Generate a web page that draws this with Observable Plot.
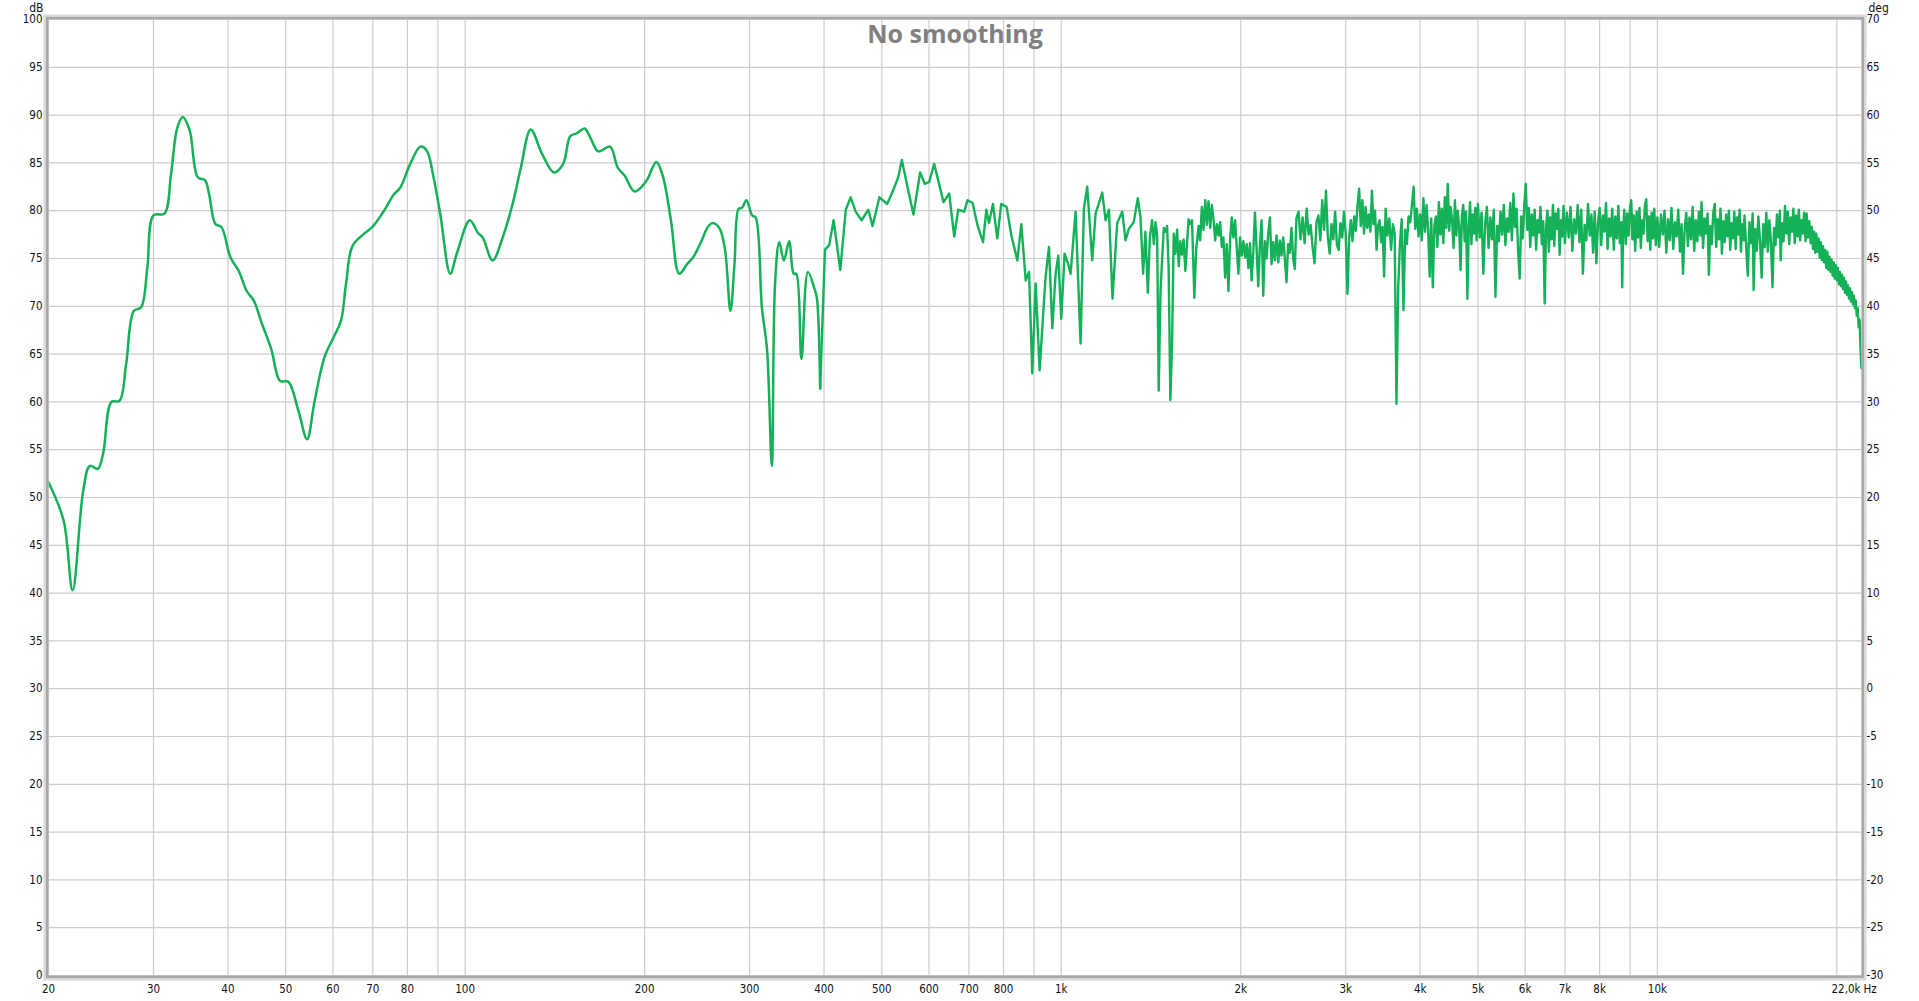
<!DOCTYPE html>
<html><head><meta charset="utf-8">
<script src="https://cdn.jsdelivr.net/npm/d3@7"></script>
<script src="https://cdn.jsdelivr.net/npm/@observablehq/plot@0.6"></script>
<style>html,body{margin:0;padding:0;background:#fff;overflow:hidden}</style>
</head><body><div id="chart"></div>
<script>
// ---- data: [frequency Hz, level dB] ----
const bassBand = [[20,51.6],[21.2,47.6],[21.95,40.3],[22.87,50.7],[23.46,53.3],[24.2,53.0],[24.7,54.6],[25.5,60.0],[26.3,60.1],[27.0,64.0],[27.8,69.5],[28.6,69.9],[29.3,74.1],[30,79.5],[31.3,79.7],[32.1,83.8],[32.9,88.7],[33.6,89.8],[34.5,88.4],[35.6,83.5],[36.6,83.2],[37.2,81.7],[38.1,78.6],[39.0,78.3],[40.4,75.1],[41.7,73.7],[43.0,71.6],[44.2,70.6],[45.6,68.2],[47.3,65.5],[48.9,62.2],[50.5,62.1],[52.5,59.1],[54.3,56.1],[55.9,60.1],[58.1,64.7],[60.2,66.8],[61.9,68.5],[63.1,72.3],[64.7,76.3],[67.7,77.6],[69.9,78.3],[73.1,80.0],[75.9,81.7],[77.8,82.4],[80.9,84.9],[84.1,86.7],[86.2,86.3],[88.5,83.5],[90.8,79.7],[94.4,73.4],[96.8,75.5],[101.8,79.0]];
const lowMidBand = [[105,77.7],[107,77.2],[111.2,74.8],[115.6,77.2],[120.1,80.7],[124,84.5],[128.8,88.5],[134.7,85.9],[140.9,84.0],[146,84.9],[150.1,87.8],[154,88.1],[158.6,88.6],[162,87.7],[167.3,86.2],[175,86.7],[180.3,84.5],[185,83.7],[192.5,82.0],[201.3,83.1],[209.2,85.1],[214.4,83.7],[221.4,79.0],[228.6,73.4],[235.6,74.4],[241.1,75.1],[248.6,76.7],[256,78.4],[261,78.7],[267.4,78.1],[273,75.8],[278.6,69.5],[283,74.4],[287.6,80.2],[291.4,80.3],[296.4,81.1],[303,79.5],[307,79.3],[314.6,69.9],[321,65.4],[326.9,53.3],[331,72.3],[336.5,76.7],[342.5,74.8],[349.5,76.8],[355.8,73.4],[359.3,73.4],[366.5,64.5],[375.9,73.6],[385.6,71.8],[389,70.9],[394,61.4]];
const midBand = [[401.4,75.9],[408,76.4],[415,79.0],[425.9,73.8],[435,80.1],[443.4,81.4],[452,79.9],[462.5,79.0],[474.6,80.1],[482.4,78.4],[495.3,81.4],[510.4,80.7],[521.3,82.0],[532.7,83.5],[540.3,85.3],[552,82.5],[565,79.6],[579.8,84.0],[590.3,82.8],[600.3,83.0],[612,84.9],[634.6,80.9],[648.6,81.8],[661.3,77.3],[671.6,80.1],[687.3,79.9],[696.3,81.1],[710,80.8],[723.4,78.5],[739.2,76.7],[748.7,80.1],[756.3,78.7],[768,80.7],[781,77.1],[793,80.7],[809.6,80.4],[824.6,77.4],[844,74.8],[857,78.6],[871.6,72.7],[883,73.6],[894,63.0],[905.7,72.4],[919.8,63.3],[931.8,68.9],[941.3,73.1],[953.5,76.2],[966,67.7],[978.4,73.4],[988.5,75.3],[1000,68.7],[1012.9,75.5],[1026,74.5],[1036.6,73.4],[1056.8,79.9],[1077.4,66.1],[1091.3,80.2],[1105.5,82.5],[1127,74.8],[1141.8,79.7],[1171.5,81.9],[1186.7,79.0],[1202,80.1],[1219,70.8],[1241,78.7],[1265.5,79.9],[1281.8,76.9],[1298,78.1],[1323,78.8],[1344,81.3],[1358,79.3],[1372,73.4],[1384,77.8],[1397,71.4],[1408,77.2],[1420,79.0],[1430,76.5]];
const upperMidBand = [[1439,78.8],[1448,77.5],[1457,61.2],[1467,71.5],[1476,74.8],[1486,78.2],[1495,77.8],[1505,78.4],[1514,74.0],[1524,60.2],[1534,66.0],[1544,77.6],[1554,75.5],[1564,78.0],[1574,74.2],[1584,76.8],[1594,75.4],[1604,77.0],[1615,73.7],[1625,76.4],[1635,79.1],[1646,78.6],[1657,79.0],[1672,70.9],[1684,76.0],[1700,78.4],[1710,76.9],[1721,80.4],[1732,78.0],[1744,81.1],[1755,78.5],[1766,81.0],[1778,78.2],[1789,80.6],[1801,79.0],[1812,76.9],[1824,78.6],[1836,77.4],[1847,78.8],[1859,76.2],[1871,77.2],[1883,73.0],[1895,76.5],[1907,71.6],[1920,77.0],[1932,79.3],[1944,77.2],[1957,79.0],[1969,76.3],[1982,73.4],[1995,77.2],[2008,75.3],[2021,76.8],[2034,75.1],[2047,76.5],[2060,74.0],[2073,76.6],[2086,72.7],[2100,75.8],[2113,79.8],[2127,75.9],[2140,72.1],[2154,76.4],[2168,79.0],[2182,71.1],[2196,76.8],[2210,75.0],[2224,77.6],[2239,79.3],[2253,74.4],[2267,76.7],[2282,74.8],[2297,77.4],[2312,74.6],[2327,76.9],[2341,75.3],[2357,77.2],[2372,74.9],[2387,72.5],[2402,76.5],[2418,75.6],[2433,78.2],[2449,75.0],[2465,73.9],[2480,79.2]];
const presenceBand = [[2500,79.9],[2520,77.0],[2540,79.3],[2560,76.6],[2580,80.2],[2600,77.5],[2620,78.5],[2640,76.2],[2660,74.5],[2680,78.8],[2700,79.5],[2720,76.9],[2740,81.1],[2760,78.0],[2780,82.1],[2800,77.3],[2820,75.5],[2840,78.6],[2860,77.0],[2880,79.9],[2900,76.4],[2920,75.9],[2940,78.7],[2960,77.2],[2980,79.9],[3000,77.6],[3020,71.3],[3040,77.1],[3060,79.0],[3080,76.8],[3100,79.4],[3120,77.9],[3140,80.5],[3160,82.3],[3180,78.4],[3200,81.1],[3220,77.6],[3240,80.4],[3260,78.2],[3280,79.6],[3300,77.8],[3320,82.1],[3340,78.6],[3360,80.0],[3380,75.9],[3400,78.5],[3420,79.0],[3440,76.7],[3460,78.3],[3480,73.1],[3500,80.2],
 [3525,77.4],[3550,79.2],[3575,75.9],[3600,78.6],[3625,77.6],[3650,59.8],[3675,72.0],[3700,76.6],[3725,79.1],[3750,69.6],[3775,78.0],[3800,76.5],[3825,79.4],[3850,78.8],[3875,80.6],[3900,82.5],[3925,78.1],[3950,80.2],[3975,77.3],[4000,79.6],[4025,76.9],[4050,81.3],[4075,77.8],[4100,80.6],[4125,78.0],[4150,73.1],[4175,79.2],[4200,72.0],[4225,78.4],[4250,79.4],[4275,76.2],[4300,80.9],[4325,77.5],[4350,80.2],[4375,76.6],[4400,81.4],[4425,78.2],[4450,82.8],[4475,77.9],[4500,80.4],[4525,79.0],[4550,76.1],[4575,81.1],[4600,77.4],[4625,80.0],[4650,78.3],[4675,73.8],[4700,79.5],[4725,80.6],[4750,76.8],[4775,79.9],[4800,70.8],[4825,78.2],[4850,80.9],[4875,76.5],[4900,79.6],[4925,77.6],[4950,80.3],[4975,76.9],[5000,80.7]];
const brillianceBand = [[5035,77.2],[5070,79.8],[5105,73.4],[5140,78.6],[5175,80.4],[5210,76.1],[5245,79.3],[5280,77.0],[5315,80.1],[5350,71.0],[5385,78.4],[5420,76.8],[5455,79.9],[5490,77.5],[5525,80.6],[5560,76.4],[5595,79.2],[5630,77.8],[5665,80.8],[5700,76.9],[5735,81.8],[5770,78.3],[5805,80.2],[5840,75.8],[5875,72.9],[5910,79.4],[5945,77.1],[5980,80.5],[6015,82.8],[6050,78.0],[6085,80.3],[6120,76.2],[6155,79.6],[6190,77.4],[6225,80.1],[6260,75.9],[6295,79.0],[6330,77.7],[6365,80.4],[6400,76.5],[6435,78.9],[6470,70.3],[6505,78.2],[6540,80.0],[6575,75.7],[6610,79.3],[6645,77.0],[6680,80.6],[6715,76.3],[6750,79.7],[6785,78.1],[6820,80.2],[6855,75.4],[6890,79.0],[6925,77.3],[6960,80.5],[6995,76.6],
 [7050,79.8],[7100,77.2],[7150,80.4],[7200,75.8],[7250,79.1],[7300,77.6],[7350,80.6],[7400,76.7],[7450,80.1],[7500,73.4],[7550,78.5],[7600,76.9],[7650,80.7],[7700,77.4],[7750,79.6],[7800,75.6],[7850,79.9],[7900,74.5],[7950,78.7],[8000,80.3],[8050,76.4],[8100,79.5],[8150,77.8],[8200,80.8],[8250,76.0],[8300,79.2],[8350,77.3],[8400,80.2],[8450,75.9],[8500,79.4],[8550,77.1],[8600,80.5],[8650,76.6],[8700,78.8],[8730,72.0],[8760,77.9],[8800,80.1],[8850,76.5],[8900,79.7],[8950,77.4],[9000,80.4],[9040,81.1],[9080,77.0],[9130,79.5],[9180,75.8],[9230,79.9],[9280,77.2],[9330,80.3],[9380,76.1],[9430,79.0],[9480,77.6],[9530,80.6],[9580,81.2],[9630,76.8],[9680,79.4],[9730,75.9],[9780,79.8],[9830,77.1],[9880,80.2],[9940,76.4],[10000,79.3]];
const airBand = [[10070,76.2],[10140,79.6],[10210,77.5],[10280,80.0],[10350,75.6],[10420,79.1],[10490,76.9],[10560,80.3],[10630,76.0],[10700,78.8],[10770,77.3],[10840,80.1],[10910,75.7],[10980,78.6],[11040,73.4],[11110,78.0],[11180,79.8],[11250,76.3],[11320,79.3],[11390,77.0],[11460,80.4],[11530,75.8],[11600,79.0],[11670,76.8],[11740,79.9],[11810,77.4],[11860,80.9],[11930,76.1],[12000,79.2],[12070,77.6],[12140,79.7],[12200,73.3],[12270,78.4],[12340,76.5],[12410,79.8],[12480,80.7],[12550,76.2],[12620,79.1],[12690,77.0],[12760,80.2],[12830,75.5],[12900,78.9],[12970,76.7],[13040,79.6],[13110,77.3],[13180,80.0],[13250,75.9],[13320,78.7],[13390,77.1],[13460,79.9],[13530,76.0],[13600,79.3],[13670,77.5],[13740,80.1],[13810,75.7],[13880,78.6],[13950,76.9],[14000,79.5],
 [14090,76.3],[14180,73.2],[14270,78.8],[14360,76.6],[14450,79.7],[14500,71.7],[14590,78.1],[14680,75.8],[14770,79.4],[14860,77.0],[14960,73.0],[15050,78.6],[15140,76.2],[15230,79.8],[15320,75.7],[15410,79.0],[15500,76.9],[15600,72.0],[15690,78.2],[15780,76.4],[15870,79.6],[15960,77.2],[16050,80.0],[16100,74.8],[16190,78.7],[16280,76.8],[16370,80.5],[16460,77.6],[16550,79.9],[16640,76.5],[16730,79.3],[16820,77.8],[16910,80.2],[17000,76.6],[17090,79.5],[17180,77.3],[17270,80.1],[17360,76.9],[17450,79.0],[17540,77.6],[17630,79.8],[17720,76.8],[17800,79.7],[17890,77.2],[17980,78.9]];
const rolloffBand = [[18080,76.6],[18160,78.3],[18240,76.0],[18320,77.8],[18400,75.6],[18480,77.6],[18560,75.7],[18640,77.1],[18720,75.1],[18800,76.7],[18880,74.8],[18960,76.3],[19040,74.6],[19120,75.9],[19200,74.0],[19280,75.7],[19360,73.8],[19440,75.2],[19520,73.6],[19600,74.9],[19680,73.2],[19760,74.6],[19840,72.9],[19920,74.3],[20000,72.7],[20080,74.0],[20160,72.3],[20240,73.6],[20320,72.1],[20400,73.3],[20480,71.8],[20560,73.0],[20640,71.4],[20720,72.6],[20800,71.2],[20880,72.2],[20960,70.8],[21040,71.9],[21120,70.5],[21200,71.5],[21280,70.2],[21360,71.1],[21440,69.8],[21520,70.6],[21600,69.0],[21680,69.8],[21760,67.8],[21840,68.6],[21920,65.5],[22000,63.5]];

// ---- axes ----
const xGridHz = [20,30,40,50,60,70,80,90,100,200,300,400,500,600,700,800,900,1000,2000,3000,4000,5000,6000,7000,8000,9000,10000,20000];
const xTickHz = [20,30,40,50,60,70,80,90,100,200,300,400,500,600,700,800,900,1000,2000,3000,4000,5000,6000,7000,8000,9000,10000];
const xTickText = ["20","30","40","50","60","70","80","90","100","200","300","400","500","600","700","800","900","1k","2k","3k","4k","5k","6k","7k","8k","9k","10k"];
const dbTicks = [0,5,10,15,20,25,30,35,40,45,50,55,60,65,70,75,80,85,90,95,100];
const degOffset = 30;
const xDomain = [20, 22000];
const yDomain = [0, 100];
const endLabel = "22,0k";
const unitX = "Hz";
const unitLeft = "dB";
const unitRight = "deg";
const chartTitle = "No smoothing";

const toRows = a => a.map(([f, db]) => ({f, db}));
const smoothRows = toRows(bassBand.concat(lowMidBand));
const roughRows = toRows([lowMidBand[lowMidBand.length - 1]].concat(midBand, upperMidBand, presenceBand, brillianceBand, airBand, rolloffBand));

const green = "#14b158";
const gridColor = "#cccccc";
const labelFont = "'DejaVu Sans Condensed', 'DejaVu Sans', sans-serif";

const chart = Plot.plot({
  width: 1919, height: 1001,
  marginLeft: 48, marginRight: 58, marginTop: 19, marginBottom: 26,
  x: {type: "log", domain: xDomain},
  y: {domain: yDomain},
  style: {fontFamily: labelFont, fontSize: "11.5px", fontStretch: "condensed", color: "#111", background: "#fff"},
  marks: [
    Plot.gridX(xGridHz, {stroke: gridColor, strokeOpacity: 1, strokeWidth: 1.2}),
    Plot.gridY(dbTicks, {stroke: gridColor, strokeOpacity: 1, strokeWidth: 1.2}),
    Plot.text([chartTitle], {frameAnchor: "top", dy: 6, lineAnchor: "top", fontSize: 25, fontWeight: "bold", fill: "#808080", fontFamily: "'Open Sans', sans-serif"}),
    Plot.line(smoothRows, {x: "f", y: "db", stroke: green, strokeWidth: 2.5, curve: "catmull-rom"}),
    Plot.line(roughRows, {x: "f", y: "db", stroke: green, strokeWidth: 2.4, strokeLinejoin: "round"}),
    Plot.frame({stroke: "#d8d8d8", strokeWidth: 5, inset: -2.5}),
    Plot.frame({stroke: "#a8a8a8", strokeWidth: 2.5, inset: -1.25}),
    Plot.axisX(xTickHz, {tickSize: 0, tickPadding: 9, label: null, tickFormat: d => xTickText[xTickHz.indexOf(d)]}),
    Plot.axisY(dbTicks, {anchor: "left", tickSize: 0, tickPadding: 6, label: null}),
    Plot.axisY(dbTicks, {anchor: "right", tickSize: 0, tickPadding: 5, label: null, tickFormat: d => String(d - degOffset)}),
    Plot.text([unitLeft], {frameAnchor: "top-left", textAnchor: "end", lineAnchor: "top", dx: -5, dy: -16, fontSize: 12}),
    Plot.text([unitRight], {frameAnchor: "top-right", textAnchor: "start", lineAnchor: "top", dx: 7, dy: -16, fontSize: 12}),
    Plot.text([endLabel], {frameAnchor: "bottom-right", textAnchor: "end", lineAnchor: "top", dx: -1, dy: 9}),
    Plot.text([unitX], {frameAnchor: "bottom-right", textAnchor: "start", lineAnchor: "top", dx: 2, dy: 9})
  ]
});
// the title uses normal-width Open Sans, not the condensed tick-label style
d3.select(chart).selectAll("text").filter(function() { return this.textContent === chartTitle; })
  .style("font-stretch", "normal").style("font-family", "'Open Sans', sans-serif");
document.getElementById("chart").appendChild(chart);
</script>
</body></html>
